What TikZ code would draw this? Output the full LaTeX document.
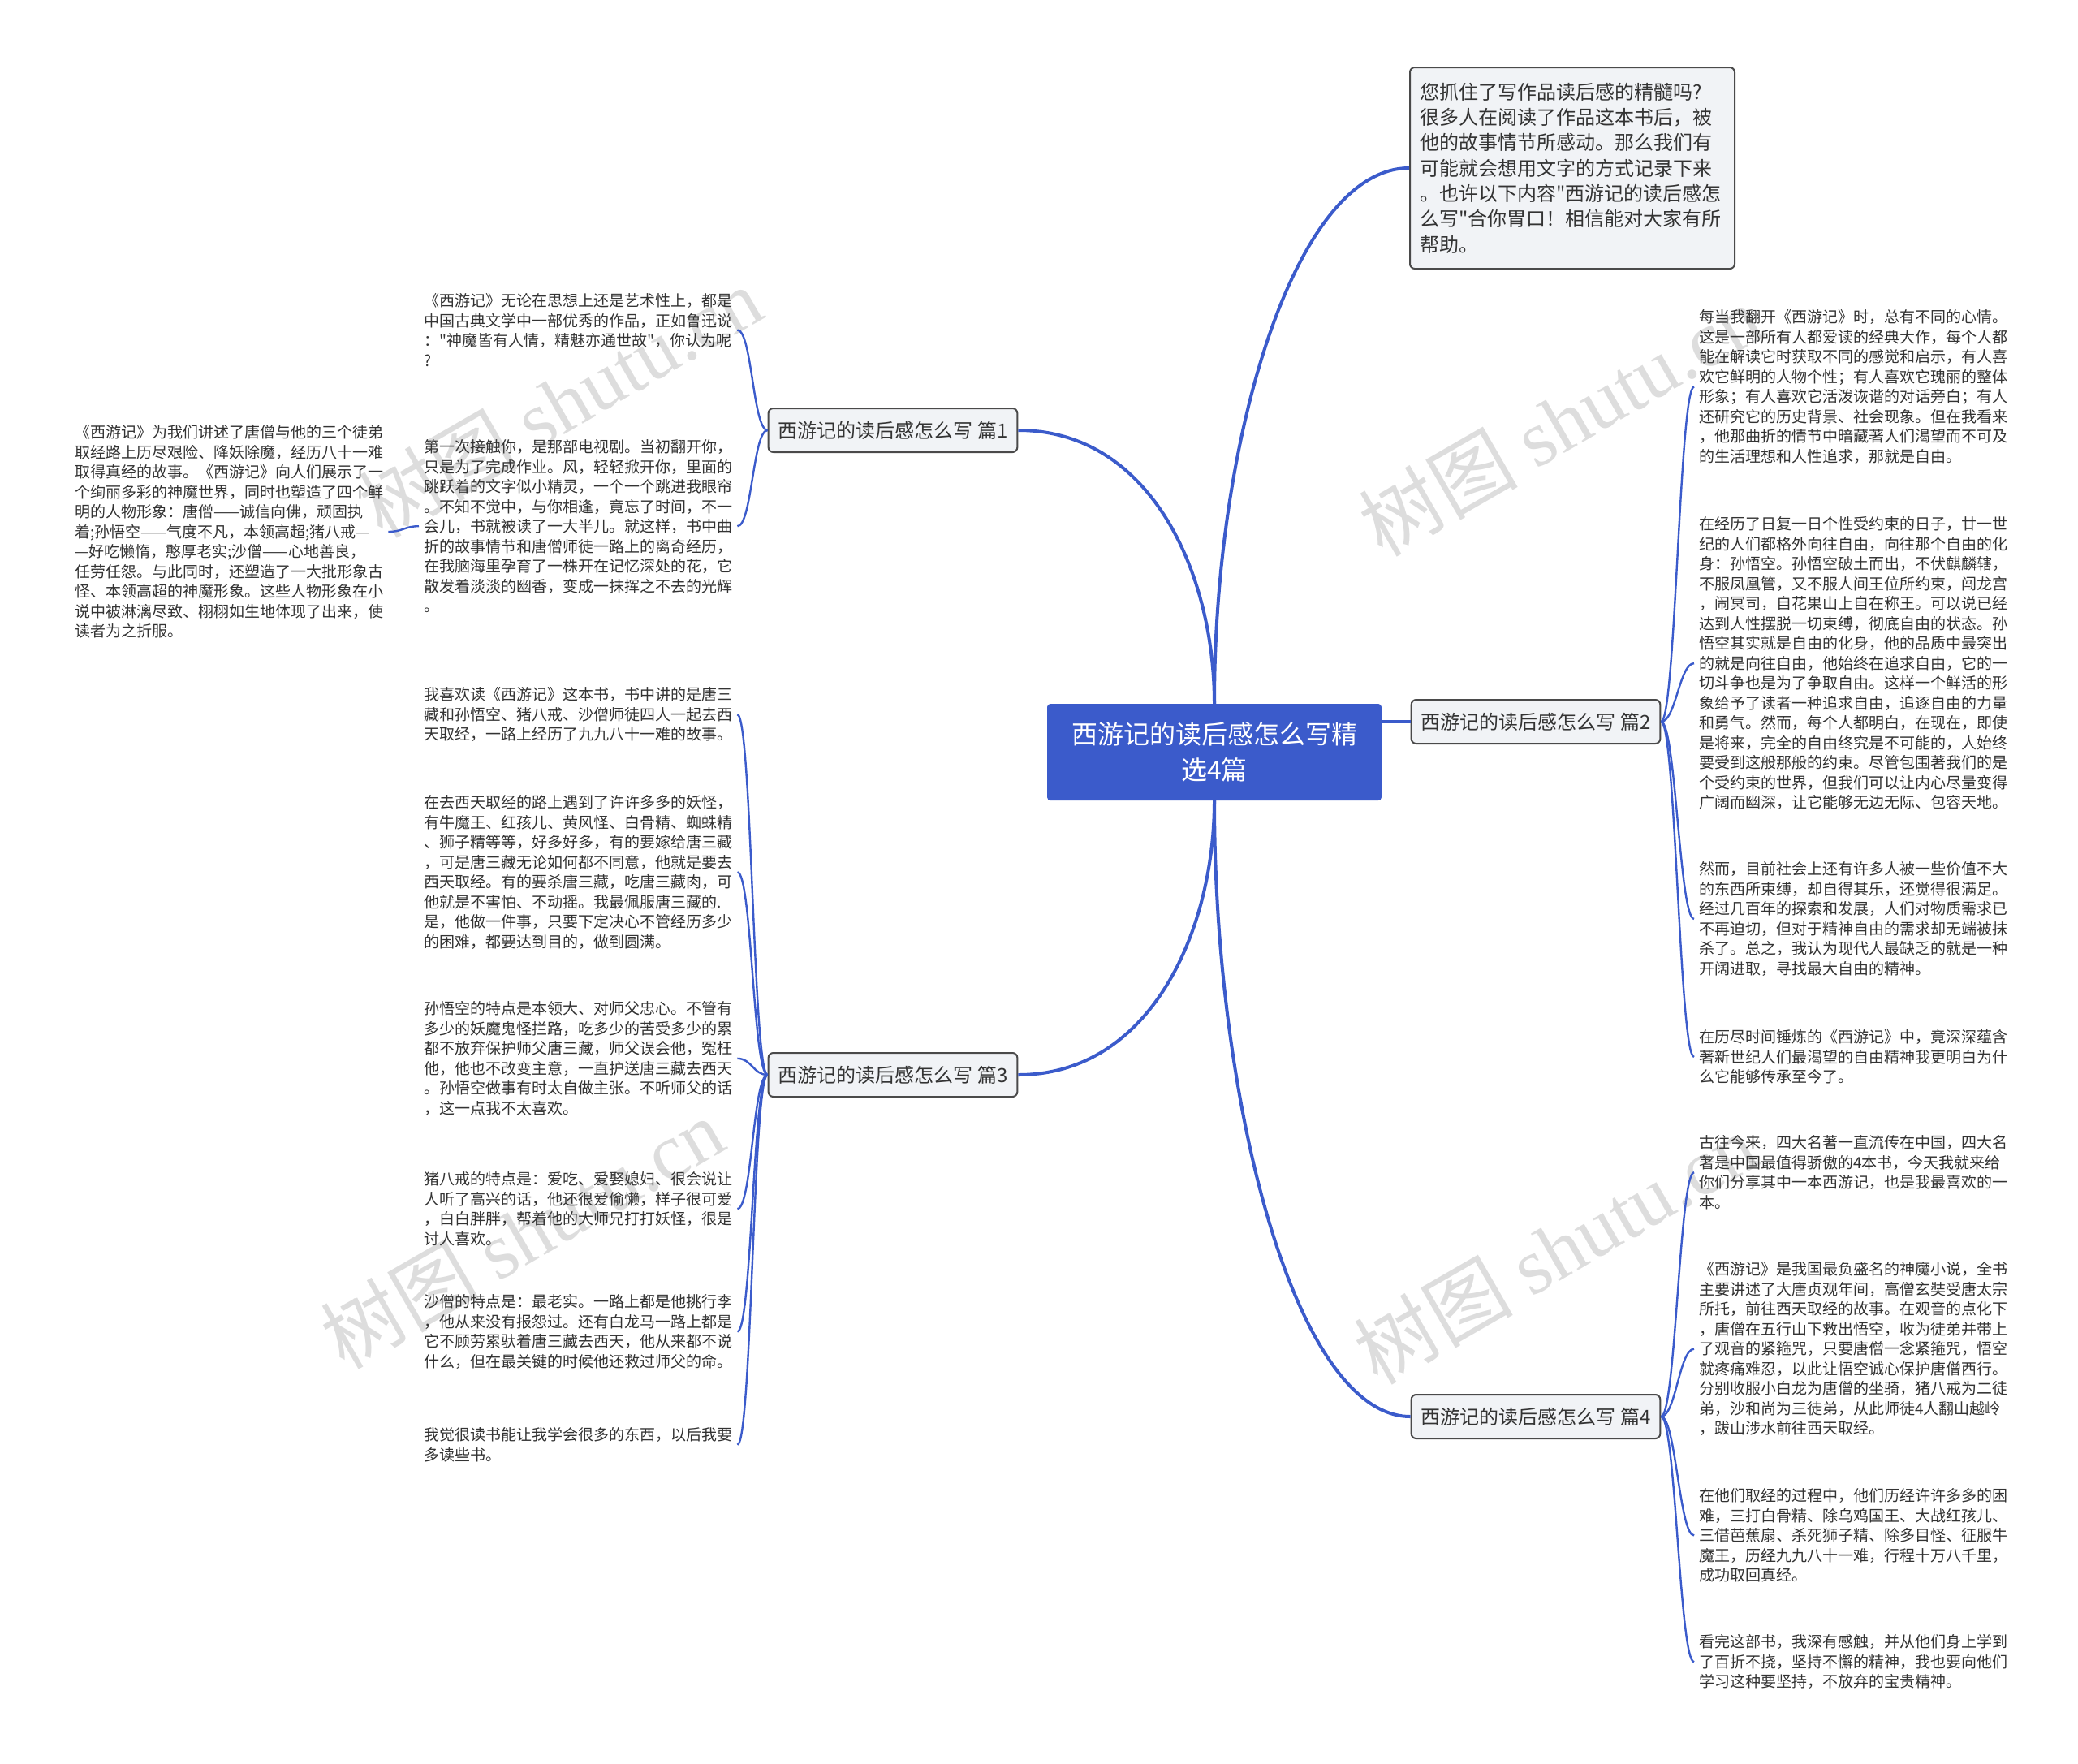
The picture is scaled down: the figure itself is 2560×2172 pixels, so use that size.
\documentclass[tikz,border=0pt]{standalone}
\usepackage{fontspec}
\setmainfont{Noto Sans CJK SC}
\newfontfamily\cjkfont{Noto Sans CJK SC}
\newfontfamily\markfont{Liberation Serif}
\usepackage{tikz}
\definecolor{mapBlue}{HTML}{3B5BCB}
\definecolor{boxFill}{HTML}{F1F3F6}
\definecolor{boxLine}{HTML}{4A4A4A}
\definecolor{inkGray}{HTML}{333333}
\definecolor{markGray}{HTML}{DDDDDD}

\begin{document}
\begin{tikzpicture}[x=1pt, y=1pt,
  centreBox/.style={fill=mapBlue, text=white, rounded corners=4pt,
    minimum width=412pt, minimum height=119pt, align=center,
    font=\cjkfont\fontsize{32}{44}\selectfont},
  introBox/.style={draw=boxLine, fill=boxFill, line width=2pt,
    rounded corners=6pt, anchor=north west, align=left, text width=376pt,
    inner xsep=12pt, inner ysep=19pt, text=inkGray,
    font=\cjkfont\fontsize{24}{31.3}\selectfont},
  branchBox/.style={draw=boxLine, fill=boxFill, line width=2pt,
    rounded corners=6pt, minimum height=54pt, inner xsep=12pt,
    text=inkGray, font=\cjkfont\fontsize{24}{28}\selectfont},
  leafText/.style={anchor=north west, align=left, inner xsep=6pt,
    inner ysep=0pt, text=inkGray, font=\cjkfont\fontsize{19}{24.5}\selectfont},
  markText/.style={text=markGray, rotate=30,
    font=\cjkfont\fontsize{98}{98}\selectfont},
  mapLink/.style={draw=mapBlue, line width=4pt},
  leafLink/.style={draw=mapBlue, line width=2.4pt, distance=18pt}
]
  \useasboundingbox (0,0) rectangle (2560,-2172);

  %% --- Watermarks behind the map ---
  \foreach \mx/\my in {690/-495, 1922/-518, 643/-1519, 1916/-1538}
    \node[markText] (mark\mx) at (\mx,\my) {树图 {\markfont shutu.cn}};

  %% --- Central topic and intro ---
  \node[centreBox] (centre) at (1496,-926.5) {西游记的读后感怎么写精\\选4篇};

  \node[introBox] (intro) at (1736,-82) {您抓住了写作品读后感的精髓吗?\\
    很多人在阅读了作品这本书后，被\\
    他的故事情节所感动。那么我们有\\
    可能就会想用文字的方式记录下来\\
    。也许以下内容"西游记的读后感怎\\
    么写"合你胃口！相信能对大家有所\\
    帮助。};

  %% --- Four branches ---
  \node[branchBox] (p1) at (1100,-530) {西游记的读后感怎么写 篇1};
  \node[branchBox] (p2) at (1892,-889) {西游记的读后感怎么写 篇2};
  \node[branchBox] (p3) at (1100,-1324) {西游记的读后感怎么写 篇3};
  \node[branchBox] (p4) at (1892,-1745) {西游记的读后感怎么写 篇4};

  \draw[mapLink] (centre.north) to[out=90, in=180, out distance=330pt, in distance=140pt] (intro.west);
  \draw[mapLink] (centre.north) to[out=90, in=0] (p1.east);
  \draw[mapLink] (p2.west -| centre.east) -- (p2.west);
  \draw[mapLink] (centre.south) to[out=-90, in=0] (p3.east);
  \draw[mapLink] (centre.south) to[out=-90, in=180, out distance=380pt, in distance=140pt] (p4.west);

  %% --- Leaves of 篇1 ---
  \node[leafText] (p1a) at (516,-361.4) {《西游记》无论在思想上还是艺术性上，都是\\
    中国古典文学中一部优秀的作品，正如鲁迅说\\
    ："神魔皆有人情，精魅亦通世故"，你认为呢\\
    ?};
  \node[leafText] (p1b) at (516,-541.4) {第一次接触你，是那部电视剧。当初翻开你，\\
    只是为了完成作业。风，轻轻掀开你，里面的\\
    跳跃着的文字似小精灵，一个一个跳进我眼帘\\
    。不知不觉中，与你相逢，竟忘了时间，不一\\
    会儿，书就被读了一大半儿。就这样，书中曲\\
    折的故事情节和唐僧师徒一路上的离奇经历，\\
    在我脑海里孕育了一株开在记忆深处的花，它\\
    散发着淡淡的幽香，变成一抹挥之不去的光辉\\
    。};
  \node[leafText] (p1c) at (86,-523.4) {《西游记》为我们讲述了唐僧与他的三个徒弟\\
    取经路上历尽艰险、降妖除魔，经历八十一难\\
    取得真经的故事。《西游记》向人们展示了一\\
    个绚丽多彩的神魔世界，同时也塑造了四个鲜\\
    明的人物形象：唐僧——诚信向佛，顽固执\\
    着;孙悟空——气度不凡，本领高超;猪八戒—\\
    —好吃懒惰，憨厚老实;沙僧——心地善良，\\
    任劳任怨。与此同时，还塑造了一大批形象古\\
    怪、本领高超的神魔形象。这些人物形象在小\\
    说中被淋漓尽致、栩栩如生地体现了出来，使\\
    读者为之折服。};

  \draw[leafLink] (p1.west) to[out=180, in=0] (p1a.east);
  \draw[leafLink] (p1.west) to[out=180, in=0] (p1b.east);
  \draw[leafLink] (p1b.west) to[out=180, in=0] (p1c.east);

  %% --- Leaves of 篇2 ---
  \node[leafText] (p2a) at (2087,-381.4) {每当我翻开《西游记》时，总有不同的心情。\\
    这是一部所有人都爱读的经典大作，每个人都\\
    能在解读它时获取不同的感觉和启示，有人喜\\
    欢它鲜明的人物个性；有人喜欢它瑰丽的整体\\
    形象；有人喜欢它活泼诙谐的对话旁白；有人\\
    还研究它的历史背景、社会现象。但在我看来\\
    ，他那曲折的情节中暗藏著人们渴望而不可及\\
    的生活理想和人性追求，那就是自由。};
  \node[leafText] (p2b) at (2087,-636.4) {在经历了日复一日个性受约束的日子，廿一世\\
    纪的人们都格外向往自由，向往那个自由的化\\
    身：孙悟空。孙悟空破土而出，不伏麒麟辖，\\
    不服凤凰管，又不服人间王位所约束，闯龙宫\\
    ，闹冥司，自花果山上自在称王。可以说已经\\
    达到人性摆脱一切束缚，彻底自由的状态。孙\\
    悟空其实就是自由的化身，他的品质中最突出\\
    的就是向往自由，他始终在追求自由，它的一\\
    切斗争也是为了争取自由。这样一个鲜活的形\\
    象给予了读者一种追求自由，追逐自由的力量\\
    和勇气。然而，每个人都明白，在现在，即使\\
    是将来，完全的自由终究是不可能的，人始终\\
    要受到这般那般的约束。尽管包围著我们的是\\
    个受约束的世界，但我们可以让内心尽量变得\\
    广阔而幽深，让它能够无边无际、包容天地。};
  \node[leafText] (p2c) at (2087,-1061.4) {然而，目前社会上还有许多人被一些价值不大\\
    的东西所束缚，却自得其乐，还觉得很满足。\\
    经过几百年的探索和发展，人们对物质需求已\\
    不再迫切，但对于精神自由的需求却无端被抹\\
    杀了。总之，我认为现代人最缺乏的就是一种\\
    开阔进取，寻找最大自由的精神。};
  \node[leafText] (p2d) at (2087,-1268.4) {在历尽时间锤炼的《西游记》中，竟深深蕴含\\
    著新世纪人们最渴望的自由精神我更明白为什\\
    么它能够传承至今了。};

  \foreach \leaf in {p2a, p2b, p2c, p2d}
    \draw[leafLink] (p2.east) to[out=0, in=180] (\leaf.west);

  %% --- Leaves of 篇3 ---
  \node[leafText] (p3a) at (516,-846.4) {我喜欢读《西游记》这本书，书中讲的是唐三\\
    藏和孙悟空、猪八戒、沙僧师徒四人一起去西\\
    天取经，一路上经历了九九八十一难的故事。};
  \node[leafText] (p3b) at (516,-979.4) {在去西天取经的路上遇到了许许多多的妖怪，\\
    有牛魔王、红孩儿、黄风怪、白骨精、蜘蛛精\\
    、狮子精等等，好多好多，有的要嫁给唐三藏\\
    ，可是唐三藏无论如何都不同意，他就是要去\\
    西天取经。有的要杀唐三藏，吃唐三藏肉，可\\
    他就是不害怕、不动摇。我最佩服唐三藏的.\\
    是，他做一件事，只要下定决心不管经历多少\\
    的困难，都要达到目的，做到圆满。};
  \node[leafText] (p3c) at (516,-1233.4) {孙悟空的特点是本领大、对师父忠心。不管有\\
    多少的妖魔鬼怪拦路，吃多少的苦受多少的累\\
    都不放弃保护师父唐三藏，师父误会他，冤枉\\
    他，他也不改变主意，一直护送唐三藏去西天\\
    。孙悟空做事有时太自做主张。不听师父的话\\
    ，这一点我不太喜欢。};
  \node[leafText] (p3d) at (516,-1443.4) {猪八戒的特点是：爱吃、爱娶媳妇、很会说让\\
    人听了高兴的话，他还很爱偷懒，样子很可爱\\
    ，白白胖胖，帮着他的大师兄打打妖怪，很是\\
    讨人喜欢。};
  \node[leafText] (p3e) at (516,-1594.4) {沙僧的特点是：最老实。一路上都是他挑行李\\
    ，他从来没有报怨过。还有白龙马一路上都是\\
    它不顾劳累驮着唐三藏去西天，他从来都不说\\
    什么，但在最关键的时候他还救过师父的命。};
  \node[leafText] (p3f) at (516,-1758.4) {我觉很读书能让我学会很多的东西，以后我要\\
    多读些书。};

  \foreach \leaf in {p3a, p3b, p3c, p3d, p3e, p3f}
    \draw[leafLink] (p3.west) to[out=180, in=0] (\leaf.east);

  %% --- Leaves of 篇4 ---
  \node[leafText] (p4a) at (2087,-1398.4) {古往今来，四大名著一直流传在中国，四大名\\
    著是中国最值得骄傲的4本书，今天我就来给\\
    你们分享其中一本西游记，也是我最喜欢的一\\
    本。};
  \node[leafText] (p4b) at (2087,-1554.4) {《西游记》是我国最负盛名的神魔小说，全书\\
    主要讲述了大唐贞观年间，高僧玄奘受唐太宗\\
    所托，前往西天取经的故事。在观音的点化下\\
    ，唐僧在五行山下救出悟空，收为徒弟并带上\\
    了观音的紧箍咒，只要唐僧一念紧箍咒，悟空\\
    就疼痛难忍，以此让悟空诚心保护唐僧西行。\\
    分别收服小白龙为唐僧的坐骑，猪八戒为二徒\\
    弟，沙和尚为三徒弟，从此师徒4人翻山越岭\\
    ，跋山涉水前往西天取经。};
  \node[leafText] (p4c) at (2087,-1833.4) {在他们取经的过程中，他们历经许许多多的困\\
    难，三打白骨精、除乌鸡国王、大战红孩儿、\\
    三借芭蕉扇、杀死狮子精、除多目怪、征服牛\\
    魔王，历经九九八十一难，行程十万八千里，\\
    成功取回真经。};
  \node[leafText] (p4d) at (2087,-2013.4) {看完这部书，我深有感触，并从他们身上学到\\
    了百折不挠，坚持不懈的精神，我也要向他们\\
    学习这种要坚持，不放弃的宝贵精神。};

  \foreach \leaf in {p4a, p4b, p4c, p4d}
    \draw[leafLink] (p4.east) to[out=0, in=180] (\leaf.west);
\end{tikzpicture}
\end{document}
